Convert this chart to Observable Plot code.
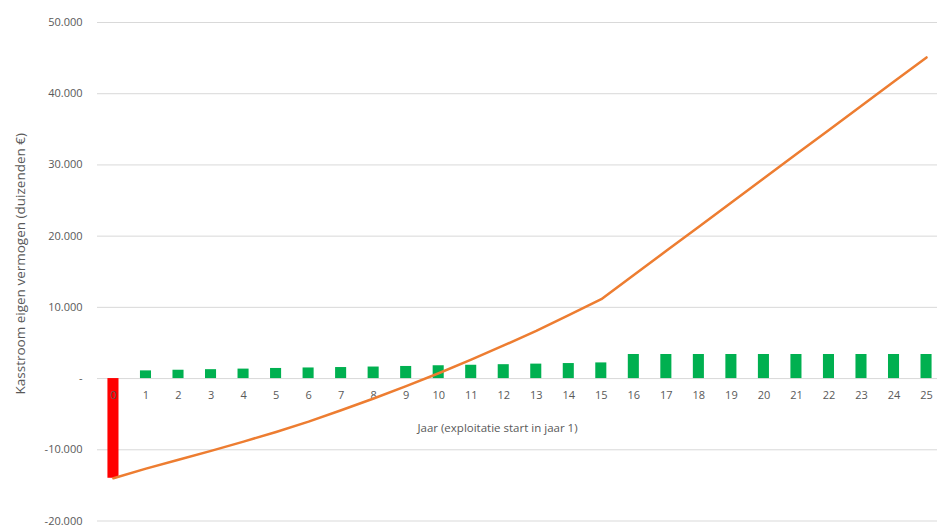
<!DOCTYPE html>
<html><head><meta charset="utf-8">
<script src="https://cdn.jsdelivr.net/npm/d3@7"></script>
<script src="https://cdn.jsdelivr.net/npm/@observablehq/plot@0.6"></script>
<style>
body{margin:0;background:#fff;font-family:"Open Sans",sans-serif}
#chart svg{overflow:visible}
</style>
</head><body><div id="chart"></div>
<script>
const years = [0,1,2,3,4,5,6,7,8,9,10,11,12,13,14,15,16,17,18,19,20,21,22,23,24,25];
const cashflow = [-14000,1080,1170,1250,1330,1420,1490,1550,1620,1700,1800,1870,1950,2030,2110,2200,
  3380,3380,3380,3380,3380,3380,3380,3380,3380,3380];
const cumulative = [-14000,-12650,-11400,-10150,-8850,-7500,-6050,-4450,-2800,-1050,750,2650,4650,6700,8900,11150,
  14545,17940,21335,24730,28125,31520,34915,38310,41705,45100];
const yTicks = [-20000,-10000,0,10000,20000,30000,40000,50000];
const xTitle = "Jaar (exploitatie start in jaar 1)";
const yTitle = "Kasstroom eigen vermogen (duizenden €)";

const bars = years.map((y,i)=>({year:String(y), value:cashflow[i]}));
const line = years.map((y,i)=>({year:String(y), value:cumulative[i]}));
const loc = d3.formatLocale({decimal:",", thousands:".", grouping:[3], currency:["€",""], minus:"-"});
const fmt = d => d === 0 ? "-" : loc.format(",")(d);
const grey = "#595959";

const chart = Plot.plot({
  width: 937, height: 526,
  marginLeft: 97, marginRight: 0, marginTop: 22, marginBottom: 5.5,
  style: {fontFamily: "'Open Sans', sans-serif", fontSize: "11px", color: grey},
  x: {type: "band", domain: years.map(String), range: [96.7, 942.3], paddingInner: 0.66, paddingOuter: 0.33, align: 0.5, round: false, axis: null},
  y: {domain: [-20000, 50000], ticks: yTicks},
  marks: [
    Plot.gridY(yTicks, {stroke: "#d9d9d9", strokeOpacity: 1}),
    Plot.axisY(yTicks, {tickSize: 0, tickPadding: 15, tickFormat: fmt, label: null, fill: grey, fontSize: 11}),
    Plot.barY(bars.filter(d => d.value < 0), {x: "year", y: "value", fill: "#ff0000"}),
    Plot.barY(bars.filter(d => d.value >= 0), {x: "year", y: "value", fill: "#00b050"}),
    Plot.text(years.map(String), {x: d => d, y: 0, dy: 17, text: d => d, fill: grey, fontSize: 11}),
    Plot.lineY(line, {x: "year", y: "value", stroke: "#ed7d31", strokeWidth: 2.5}),
    Plot.text([xTitle], {frameAnchor: "middle", y: 0, dx: -20, dy: 49.5, text: d => d, fill: grey, fontSize: 11.5}),
    Plot.text([yTitle], {frameAnchor: "left", textAnchor: "middle", dx: -77, dy: -8, rotate: -90, text: d => d, fill: grey, fontSize: 13.5})
  ]
});
document.getElementById("chart").append(chart);
</script>
</body></html>
